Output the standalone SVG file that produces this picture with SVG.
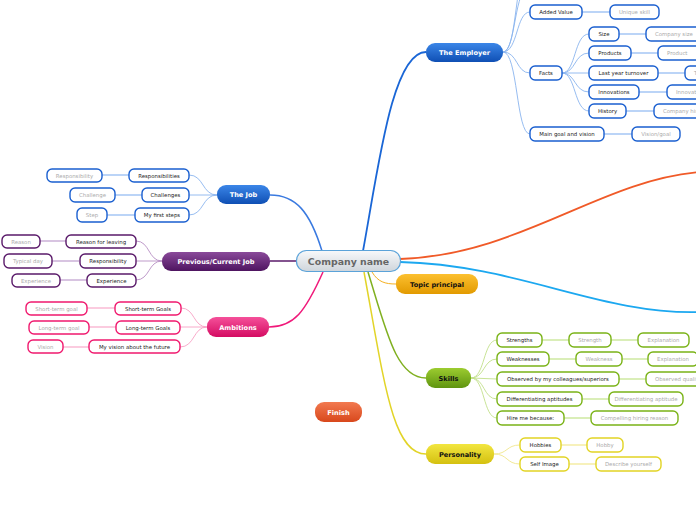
<svg xmlns="http://www.w3.org/2000/svg" width="696" height="520" viewBox="0 0 696 520">
<defs>
<linearGradient id="gCenter" x1="0" y1="0" x2="0" y2="1"><stop offset="0" stop-color="#f7f9fb"/><stop offset="1" stop-color="#cfd5db"/></linearGradient>
<linearGradient id="gBlue" x1="0" y1="0" x2="0" y2="1"><stop offset="0" stop-color="#3b86e8"/><stop offset="1" stop-color="#0f4fb4"/></linearGradient>
<linearGradient id="gPurple" x1="0" y1="0" x2="0" y2="1"><stop offset="0" stop-color="#8a4a9a"/><stop offset="1" stop-color="#4e1460"/></linearGradient>
<linearGradient id="gPink" x1="0" y1="0" x2="0" y2="1"><stop offset="0" stop-color="#f5509a"/><stop offset="1" stop-color="#d40c62"/></linearGradient>
<linearGradient id="gGold" x1="0" y1="0" x2="0" y2="1"><stop offset="0" stop-color="#fcc030"/><stop offset="1" stop-color="#e29a00"/></linearGradient>
<linearGradient id="gGreen" x1="0" y1="0" x2="0" y2="1"><stop offset="0" stop-color="#9ccc30"/><stop offset="1" stop-color="#5f9410"/></linearGradient>
<linearGradient id="gYellow" x1="0" y1="0" x2="0" y2="1"><stop offset="0" stop-color="#f2e640"/><stop offset="1" stop-color="#d4c010"/></linearGradient>
<linearGradient id="gRed" x1="0" y1="0" x2="0" y2="1"><stop offset="0" stop-color="#f27a50"/><stop offset="1" stop-color="#d8481c"/></linearGradient>
</defs>
<style>
text{font-family:"DejaVu Sans","Liberation Sans",sans-serif;text-anchor:middle}
.main text,.main{font-weight:bold}
.mt{font-size:6.6px;font-weight:bold;fill:#fff}
.mtd{font-size:6.6px;font-weight:bold;fill:#111}
.sub{fill:#fff;stroke-width:1.4}
.st{font-size:5.4px;fill:#222}
.gt{font-size:5.4px;fill:#aaa}
.b{stroke:#1a5fd0}
.p{stroke:#5a1a6a}
.k{stroke:#f0196e}
.g{stroke:#7ab317}
.y{stroke:#e2d424}
.con path{fill:none}
.cb{stroke:#8ab4ee;stroke-width:0.9}
.cp{stroke:#b890c4;stroke-width:0.9}
.ck{stroke:#f7a0c4;stroke-width:0.9}
.cg{stroke:#c2e08a;stroke-width:0.9}
.cy{stroke:#f0e68c;stroke-width:0.9}
.lb{stroke:#b4d0f6;stroke-width:1.8}
.lp{stroke:#d4bede;stroke-width:1.8}
.lk{stroke:#fbc6dc;stroke-width:1.8}
.lg{stroke:#d6ecb0;stroke-width:1.8}
.ly{stroke:#f6f0b4;stroke-width:1.8}
</style>

<g id="connectors" class="con">
<!-- main branches -->
<path d="M363,251 C378,170 392,52 426,52" stroke="#1a66d6" stroke-width="1.8"/>
<path d="M322,251 C310,212 296,195 270,195" stroke="#3a7ae0" stroke-width="1.5"/>
<path d="M270,261 L297,261" stroke="#5a1a6a" stroke-width="1.5"/>
<path d="M323,272 C305,312 294,327 269,327" stroke="#f0197a" stroke-width="1.5"/>
<path d="M400,259 C520,255 600,180 700,172" stroke="#f05a28" stroke-width="1.8"/>
<path d="M400,262 C520,265 600,315 700,312" stroke="#1ca8f0" stroke-width="1.8"/>
<path d="M372,272 C378,282 385,284 396,284" stroke="#f5b020" stroke-width="1"/>
<path d="M368,272 C386,330 396,378 426,378" stroke="#80b020" stroke-width="1.5"/>
<path d="M364,272 C384,380 392,454 426,454" stroke="#e2d428" stroke-width="1.5"/>
<!-- employer children -->
<path class="cb" d="M503,52 C516,52 514,-14 530,-14"/>
<path class="cb" d="M503,52 C518,52 514,-34 530,-34"/>
<path class="cb" d="M503,52 C518,52 516,12 530,12"/>
<path class="cb" d="M503,52 C518,52 516,73 530,73"/>
<path class="cb" d="M503,52 C518,52 516,134 530,134"/>
<path class="cb" d="M562,73 C576,73 574,34 589,34"/>
<path class="cb" d="M562,73 C576,73 574,53 589,53"/>
<path class="cb" d="M562,73 L589,73"/>
<path class="cb" d="M562,73 C576,73 574,92 589,92"/>
<path class="cb" d="M562,73 C576,73 574,111 589,111"/>
<path class="lb" d="M582,12 L610,12"/>
<path class="lb" d="M619,34 L646,34"/>
<path class="lb" d="M631,53 L658,53"/>
<path class="lb" d="M658,73 L685,73"/>
<path class="lb" d="M639,92 L667,92"/>
<path class="lb" d="M626,111 L654,111"/>
<path class="lb" d="M604,134 L632,134"/>
<!-- job children -->
<path class="cb" d="M217,195 C202,195 204,175 189,175"/>
<path class="cb" d="M217,195 L189,195"/>
<path class="cb" d="M217,195 C202,195 204,215 189,215"/>
<path class="lb" d="M129,175 L102,175"/>
<path class="lb" d="M142,195 L115,195"/>
<path class="lb" d="M135,215 L107,215"/>
<!-- previous children -->
<path class="cp" d="M162,261 C148,261 150,241 136,241"/>
<path class="cp" d="M162,261 L136,261"/>
<path class="cp" d="M162,261 C148,261 150,280 136,280"/>
<path class="lp" d="M66,241 L40,241"/>
<path class="lp" d="M79,261 L52,261"/>
<path class="lp" d="M87,280 L60,280"/>
<!-- ambitions children -->
<path class="ck" d="M207,327 C193,327 195,308 181,308"/>
<path class="ck" d="M207,327 L180,327"/>
<path class="ck" d="M207,327 C193,327 195,347 180,347"/>
<path class="lk" d="M115,308 L87,308"/>
<path class="lk" d="M116,327 L89,327"/>
<path class="lk" d="M89,347 L63,347"/>
<!-- skills children -->
<path class="cg" d="M471,378 C485,378 483,340 497,340"/>
<path class="cg" d="M471,378 C485,378 483,359 497,359"/>
<path class="cg" d="M471,378 L497,379"/>
<path class="cg" d="M471,378 C485,378 483,399 497,399"/>
<path class="cg" d="M471,378 C485,378 483,418 497,418"/>
<path class="lg" d="M542,340 L569,340"/>
<path class="lg" d="M611,340 L638,340"/>
<path class="lg" d="M549,359 L576,359"/>
<path class="lg" d="M622,359 L648,359"/>
<path class="lg" d="M619,379 L646,379"/>
<path class="lg" d="M582,399 L609,399"/>
<path class="lg" d="M564,418 L591,418"/>
<!-- personality children -->
<path class="cy" d="M494,454 C508,454 506,445 520,445"/>
<path class="cy" d="M494,454 C508,454 506,464 520,464"/>
<path class="ly" d="M561,445 L587,445"/>
<path class="ly" d="M569,464 L596,464"/>
</g>

<g id="center">
<rect x="296.5" y="250.5" width="104" height="21" rx="10" fill="url(#gCenter)" stroke="#5ba3d9" stroke-width="1.2"/>
<text x="348.5" y="264.5" style="font-size:9.4px;font-weight:bold;fill:#666">Company name</text>
</g>

<g id="employer">
<rect x="426" y="43" width="77" height="19" rx="9" fill="url(#gBlue)"/>
<text class="mt" x="464.5" y="55">The Employer</text>
</g>
<g id="added-value"><rect class="sub b" x="530" y="5" width="52" height="14" rx="5"/><text class="st" x="556" y="14">Added Value</text></g>
<g id="unique-skill"><rect class="sub b" x="610" y="5" width="49" height="14" rx="5"/><text class="gt" x="634.5" y="14">Unique skill</text></g>
<g id="facts"><rect class="sub b" x="530" y="66" width="32" height="14" rx="5"/><text class="st" x="546" y="75">Facts</text></g>
<g id="size"><rect class="sub b" x="589" y="27" width="30" height="14" rx="5"/><text class="st" x="604" y="36">Size</text></g>
<g id="company-size"><rect class="sub b" x="646" y="27" width="62" height="14" rx="5"/><text class="gt" x="655" y="36" style="text-anchor:start">Company size</text></g>
<g id="products"><rect class="sub b" x="589" y="46" width="42" height="14" rx="5"/><text class="st" x="610" y="55">Products</text></g>
<g id="product"><rect class="sub b" x="658" y="46" width="48" height="14" rx="5"/><text class="gt" x="667" y="55" style="text-anchor:start">Product</text></g>
<g id="turnover"><rect class="sub b" x="589" y="66" width="69" height="14" rx="5"/><text class="st" x="623.5" y="75">Last year turnover</text></g>
<g id="turnover-val"><rect class="sub b" x="685" y="66" width="40" height="14" rx="5"/><text class="gt" x="694" y="75" style="text-anchor:start">Turnover</text></g>
<g id="innovations"><rect class="sub b" x="589" y="85" width="50" height="14" rx="5"/><text class="st" x="614" y="94">Innovations</text></g>
<g id="innovation"><rect class="sub b" x="667" y="85" width="50" height="14" rx="5"/><text class="gt" x="676" y="94" style="text-anchor:start">Innovation</text></g>
<g id="history"><rect class="sub b" x="589" y="104" width="37" height="14" rx="5"/><text class="st" x="607.5" y="113">History</text></g>
<g id="company-history"><rect class="sub b" x="654" y="104" width="70" height="14" rx="5"/><text class="gt" x="663" y="113" style="text-anchor:start">Company history</text></g>
<g id="main-goal"><rect class="sub b" x="530" y="127" width="74" height="14" rx="5"/><text class="st" x="567" y="136">Main goal and vision</text></g>
<g id="vision-goal"><rect class="sub b" x="632" y="127" width="48" height="14" rx="5"/><text class="gt" x="656" y="136">Vision/goal</text></g>

<g id="job">
<rect x="217" y="185" width="53" height="19" rx="9" fill="url(#gBlue)"/>
<text class="mt" x="243.5" y="197">The Job</text>
</g>
<g id="responsibilities"><rect class="sub b" x="129" y="169" width="60" height="13" rx="5"/><text class="st" x="159" y="177.5">Responsibilities</text></g>
<g id="responsibility"><rect class="sub b" x="47" y="169" width="55" height="13" rx="5"/><text class="gt" x="74.5" y="177.5">Responsibility</text></g>
<g id="challenges"><rect class="sub b" x="142" y="188" width="47" height="14" rx="5"/><text class="st" x="165.5" y="197">Challenges</text></g>
<g id="challenge"><rect class="sub b" x="70" y="188" width="45" height="14" rx="5"/><text class="gt" x="92.5" y="197">Challenge</text></g>
<g id="first-steps"><rect class="sub b" x="135" y="208" width="54" height="14" rx="5"/><text class="st" x="162" y="217">My first steps</text></g>
<g id="step"><rect class="sub b" x="77" y="208" width="30" height="14" rx="5"/><text class="gt" x="92" y="217">Step</text></g>

<g id="previous">
<rect x="162" y="252" width="108" height="19" rx="9" fill="url(#gPurple)"/>
<text class="mt" x="216" y="264">Previous/Current Job</text>
</g>
<g id="reason-leaving"><rect class="sub p" x="66" y="235" width="70" height="13" rx="5"/><text class="st" x="101" y="243.5">Reason for leaving</text></g>
<g id="reason"><rect class="sub p" x="2" y="235" width="38" height="13" rx="5"/><text class="gt" x="21" y="243.5">Reason</text></g>
<g id="responsibility-p"><rect class="sub p" x="80" y="254" width="56" height="14" rx="5"/><text class="st" x="108" y="263">Responsibility</text></g>
<g id="typical-day"><rect class="sub p" x="4" y="254" width="48" height="14" rx="5"/><text class="gt" x="28" y="263">Typical day</text></g>
<g id="experience"><rect class="sub p" x="87" y="274" width="49" height="13" rx="5"/><text class="st" x="111.5" y="282.5">Experience</text></g>
<g id="experience-val"><rect class="sub p" x="12" y="274" width="48" height="13" rx="5"/><text class="gt" x="36" y="282.5">Experience</text></g>

<g id="ambitions">
<rect x="207" y="317" width="62" height="20" rx="9" fill="url(#gPink)"/>
<text class="mt" x="238" y="329.5">Ambitions</text>
</g>
<g id="short-goals"><rect class="sub k" x="115" y="302" width="66" height="13" rx="5"/><text class="st" x="148" y="310.5">Short-term Goals</text></g>
<g id="short-goal"><rect class="sub k" x="26" y="302" width="61" height="13" rx="5"/><text class="gt" x="56.5" y="310.5">Short-term goal</text></g>
<g id="long-goals"><rect class="sub k" x="116" y="321" width="64" height="13" rx="5"/><text class="st" x="148" y="329.5">Long-term Goals</text></g>
<g id="long-goal"><rect class="sub k" x="29" y="321" width="60" height="13" rx="5"/><text class="gt" x="59" y="329.5">Long-term goal</text></g>
<g id="vision-future"><rect class="sub k" x="89" y="340" width="91" height="13" rx="5"/><text class="st" x="134.5" y="348.5">My vision about the future</text></g>
<g id="vision"><rect class="sub k" x="28" y="340" width="35" height="13" rx="5"/><text class="gt" x="45.5" y="348.5">Vision</text></g>

<g id="topic-principal">
<rect x="396" y="274" width="82" height="20" rx="9" fill="url(#gGold)"/>
<text class="mtd" x="437" y="286.5">Topic principal</text>
</g>

<g id="skills">
<rect x="426" y="368" width="45" height="20" rx="9" fill="url(#gGreen)"/>
<text class="mtd" x="448.5" y="380.5">Skills</text>
</g>
<g id="strengths"><rect class="sub g" x="497" y="333" width="45" height="14" rx="5"/><text class="st" x="519.5" y="342">Strengths</text></g>
<g id="strength"><rect class="sub g" x="569" y="333" width="42" height="14" rx="5"/><text class="gt" x="590" y="342">Strength</text></g>
<g id="explanation1"><rect class="sub g" x="638" y="333" width="51" height="14" rx="5"/><text class="gt" x="663.5" y="342">Explanation</text></g>
<g id="weaknesses"><rect class="sub g" x="497" y="352" width="52" height="14" rx="5"/><text class="st" x="523" y="361">Weaknesses</text></g>
<g id="weakness"><rect class="sub g" x="576" y="352" width="46" height="14" rx="5"/><text class="gt" x="599" y="361">Weakness</text></g>
<g id="explanation2"><rect class="sub g" x="648" y="352" width="50" height="14" rx="5"/><text class="gt" x="673" y="361">Explanation</text></g>
<g id="observed"><rect class="sub g" x="497" y="372" width="122" height="14" rx="5"/><text class="st" x="558" y="381">Observed by my colleagues/superiors</text></g>
<g id="observed-quali"><rect class="sub g" x="646" y="372" width="70" height="14" rx="5"/><text class="gt" x="655" y="381" style="text-anchor:start">Observed qualities</text></g>
<g id="diff-aptitudes"><rect class="sub g" x="497" y="392" width="85" height="14" rx="5"/><text class="st" x="539.5" y="401">Differentiating aptitudes</text></g>
<g id="diff-aptitude"><rect class="sub g" x="609" y="392" width="74" height="14" rx="5"/><text class="gt" x="646" y="401">Differentiating aptitude</text></g>
<g id="hire-me"><rect class="sub g" x="497" y="411" width="67" height="14" rx="5"/><text class="st" x="530.5" y="420">Hire me because:</text></g>
<g id="hiring-reason"><rect class="sub g" x="591" y="411" width="87" height="14" rx="5"/><text class="gt" x="634.5" y="420">Compelling hiring reason</text></g>

<g id="personality">
<rect x="426" y="444" width="68" height="20" rx="9" fill="url(#gYellow)"/>
<text class="mtd" x="460" y="456.5">Personality</text>
</g>
<g id="hobbies"><rect class="sub y" x="520" y="438" width="41" height="14" rx="5"/><text class="st" x="540.5" y="447">Hobbies</text></g>
<g id="hobby"><rect class="sub y" x="587" y="438" width="36" height="14" rx="5"/><text class="gt" x="605" y="447">Hobby</text></g>
<g id="self-image"><rect class="sub y" x="520" y="457" width="49" height="14" rx="5"/><text class="st" x="544.5" y="466">Self Image</text></g>
<g id="describe"><rect class="sub y" x="596" y="457" width="65" height="14" rx="5"/><text class="gt" x="628.5" y="466">Describe yourself</text></g>

<g id="finish">
<rect x="315" y="402" width="47" height="20" rx="9" fill="url(#gRed)"/>
<text class="mt" x="338.5" y="414.5">Finish</text>
</g>
</svg>
